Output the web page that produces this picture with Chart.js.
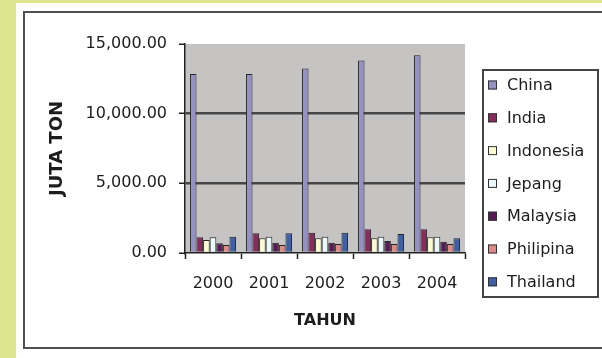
<!DOCTYPE html>
<html>
<head>
<meta charset="utf-8">
<script src="https://cdn.jsdelivr.net/npm/chart.js@4/dist/chart.umd.min.js"></script>
<style>
  html, body { margin: 0; padding: 0; background: #dfe48e; }
  #wrap { width: 602px; height: 358px; }
</style>
</head>
<body>
<div id="wrap"><canvas id="chart" width="602" height="358"></canvas></div>
<script>
// ─── Data (juta ton) ───
const years = ['2000', '2001', '2002', '2003', '2004'];
const countries = ['China', 'India', 'Indonesia', 'Jepang', 'Malaysia', 'Philipina', 'Thailand'];
const china     = [12850, 12850, 13240, 13810, 14200];
const india     = [1130, 1415, 1460, 1700, 1700];
const indonesia = [935, 1055, 1055, 1055, 1130];
const jepang    = [1130, 1170, 1170, 1170, 1170];
const malaysia  = [700, 740, 740, 860, 800];
const philipina = [575, 575, 650, 650, 650];
const thailand  = [1170, 1415, 1460, 1370, 1055];
const yTicks = [0, 5000, 10000, 15000];

const series = [china, india, indonesia, jepang, malaysia, philipina, thailand];
const colors = ['#9590c6', '#8a2a5e', '#fbfad2', '#eafafa', '#571a57', '#e08a88', '#3f5fa6'];

const FONT = "'DejaVu Sans', sans-serif";
const TEXT = '#1c1c1c';

// background, white panel, frame, plot fill
const backdrop = {
    id: 'backdrop',
    beforeDraw: (chart) => {
        const { ctx, chartArea } = chart;
        ctx.save();
        ctx.fillStyle = '#dfe48e';
        ctx.fillRect(0, 0, 602, 358);
        ctx.fillStyle = '#ffffff';
        ctx.fillRect(16, 3, 590, 358);
        ctx.strokeStyle = '#505050';
        ctx.lineWidth = 2;
        ctx.strokeRect(24, 12, 600, 336);
        ctx.fillStyle = '#c5c4c3';
        ctx.fillRect(chartArea.left, chartArea.top,
            chartArea.right - chartArea.left, chartArea.bottom - chartArea.top);
        ctx.restore();
    },
};

// boxed legend on the right
const sideLegend = {
    id: 'sideLegend',
    afterDraw: (chart) => {
        const { ctx } = chart;
        ctx.save();
        ctx.strokeStyle = '#454545';
        ctx.lineWidth = 2;
        ctx.strokeRect(483, 70, 115, 227);
        ctx.font = '16px ' + FONT;
        ctx.textBaseline = 'middle';
        chart.data.datasets.forEach((ds, i) => {
            const y = 85 + i * 32.8;
            ctx.fillStyle = ds.backgroundColor;
            ctx.fillRect(488, y - 4.5, 9, 9);
            ctx.strokeStyle = '#333';
            ctx.lineWidth = 1;
            ctx.strokeRect(488.5, y - 4, 8, 8);
            ctx.fillStyle = TEXT;
            ctx.fillText(ds.label, 507, y + 1);
        });
        ctx.restore();
    },
};

new Chart(document.getElementById('chart'), {
    type: 'bar',
    data: {
        labels: years,
        datasets: countries.map((name, i) => ({
            label: name,
            data: series[i],
            backgroundColor: colors[i],
            borderColor: '#262626',
            borderWidth: 1,
            barPercentage: 1,
            categoryPercentage: 0.8235,
        })),
    },
    options: {
        responsive: false,
        animation: false,
        layout: { padding: { top: 44, right: 137, bottom: 0, left: 0 } },
        plugins: {
            legend: { display: false },
            tooltip: { enabled: false },
        },
        scales: {
            x: {
                afterFit: (s) => { s.height = 105; },
                grid: {
                    offset: true,
                    drawOnChartArea: false,
                    tickLength: 6,
                    tickColor: '#222',
                    tickWidth: 1.5,
                },
                border: { color: '#222', width: 1.5 },
                ticks: { color: TEXT, font: { family: FONT, size: 16 }, padding: 15 },
                title: {
                    display: true,
                    text: 'TAHUN',
                    color: TEXT,
                    font: { family: FONT, size: 16, weight: 'bold' },
                    padding: { top: 0, bottom: 28 },
                },
            },
            y: {
                min: 0,
                max: 15000,
                afterFit: (s) => { s.width = 185; },
                afterBuildTicks: (s) => { s.ticks = yTicks.map(v => ({ value: v })); },
                grid: {
                    color: (c) => (c.tick && (c.tick.value === 5000 || c.tick.value === 10000)) ? '#474747' : 'rgba(0,0,0,0)',
                    lineWidth: 2.5,
                    tickLength: 6,
                    tickColor: '#222',
                    tickWidth: 1.5,
                },
                border: { color: '#222', width: 1.5 },
                ticks: {
                    color: TEXT,
                    font: { family: FONT, size: 16 },
                    padding: 12,
                    callback: (v) => Number(v).toLocaleString('en-US', { minimumFractionDigits: 2, maximumFractionDigits: 2 }),
                },
                title: {
                    display: true,
                    text: 'JUTA TON',
                    color: TEXT,
                    font: { family: FONT, size: 18, weight: 'bold' },
                    padding: { top: 47, bottom: 0 },
                },
            },
        },
    },
    plugins: [backdrop, sideLegend],
});
</script>
</body>
</html>
